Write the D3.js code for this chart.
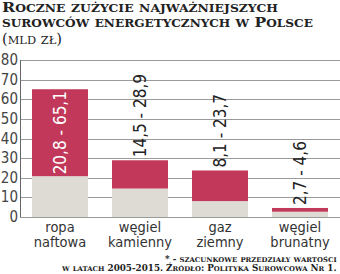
<!DOCTYPE html>
<html>
<head>
<meta charset="utf-8">
<script src="https://cdn.jsdelivr.net/npm/d3@7"></script>
<style>
  body { margin: 0; background: #fff; }
  .title { font-family: "DejaVu Serif", serif; font-weight: bold; fill: #222; }
  .cond { font-family: "Liberation Sans Narrow", "DejaVu Sans Condensed", sans-serif; }
</style>
</head>
<body>
<div id="canvas"></div>
<script>
(function(d3){

  // dane: szacunkowe przedziały (mld zł)
  var categories = [['ropa', 'naftowa'], ['węgiel', 'kamienny'], ['gaz', 'ziemny'], ['węgiel', 'brunatny']],
      lowValues = [20.8, 14.5, 8.1, 2.7],
      highValues = [65.1, 28.9, 23.7, 4.6],
      rangeLabels = ['20,8 - 65,1', '14,5 - 28,9', '8,1 - 23,7', '2,7 - 4,6'],
      yTicks = [0, 10, 20, 30, 40, 50, 60, 70, 80];

  var canvas_d = {width: 340, height: 274},
      margin = {top: 60, left: 20, right: 0},
      red = '#c1385a',
      grey = '#dddbd3';

  var canvas = d3.select('#canvas').append('svg')
      .attr('width', canvas_d.width)
      .attr('height', canvas_d.height);

  var x = d3.scaleBand()
      .domain(d3.range(categories.length))
      .range([margin.left, canvas_d.width - margin.right])
      .paddingInner(0.3)
      .paddingOuter(0.15);

  var y = d3.scaleLinear().domain([0, 80]).range([217, 60]);

  // small caps by hand, then stretch the line to the given width
  function fitLine(str, size, x0, y0, width, anchor, weight) {
    var t = canvas.append('text').attr('class', 'title')
        .attr('font-size', size)
        .style('font-weight', weight || 'bold');
    var runs = [];
    str.split('').forEach(function(ch){
      var small = ch !== ch.toUpperCase();
      if (runs.length && runs[runs.length - 1].small === small) runs[runs.length - 1].s += ch;
      else runs.push({small: small, s: ch});
    });
    runs.forEach(function(r){
      t.append('tspan')
          .attr('font-size', r.small ? size * 0.78 : size)
          .text(r.s.toUpperCase());
    });
    var w = t.node().getComputedTextLength(),
        k = width / w,
        left = anchor === 'end' ? x0 - width : x0;
    t.attr('transform', 'translate(' + left + ',' + y0 + ') scale(' + k + ',1)');
    return t;
  }

  /**
   * Title
   */
  fitLine('Roczne zużycie najważniejszych', 13, 2, 12, 276);
  fitLine('surowców energetycznych w Polsce', 13, 2, 27, 311);
  fitLine('(mld zł)', 14, 2, 44, 60, 'start', 'normal');

  /**
   * Grid + axis
   */
  canvas.append('g').selectAll('line')
      .data(yTicks)
    .enter().append('line')
      .attr('x1', margin.left).attr('x2', canvas_d.width)
      .attr('y1', function(d){ return Math.round(y(d)) + 0.5; })
      .attr('y2', function(d){ return Math.round(y(d)) + 0.5; })
      .attr('stroke', '#9a9a9a').attr('stroke-width', 1);

  canvas.append('line')
      .attr('x1', margin.left + 0.5).attr('x2', margin.left + 0.5)
      .attr('y1', y(80)).attr('y2', y(0))
      .attr('stroke', '#666');

  canvas.append('g').selectAll('text')
      .data(yTicks)
    .enter().append('text')
      .attr('class', 'cond')
      .attr('x', 18).attr('y', function(d){ return y(d) + 5; })
      .attr('text-anchor', 'end').attr('font-size', 15).attr('fill', '#444')
      .text(function(d){ return d; });

  /**
   * Bars
   */
  var bars = canvas.append('g').selectAll('g')
      .data(categories)
    .enter().append('g');

  bars.append('rect')
      .attr('x', function(d, i){ return x(i); })
      .attr('width', x.bandwidth())
      .attr('y', function(d, i){ return y(lowValues[i]); })
      .attr('height', function(d, i){ return y(0) - y(lowValues[i]); })
      .attr('fill', grey);

  bars.append('rect')
      .attr('x', function(d, i){ return x(i); })
      .attr('width', x.bandwidth())
      .attr('y', function(d, i){ return y(highValues[i]); })
      .attr('height', function(d, i){ return y(lowValues[i]) - y(highValues[i]); })
      .attr('fill', red);

  // etykiety przedziałów
  bars.append('text')
      .attr('class', 'cond')
      .attr('font-size', 17)
      .attr('fill', function(d, i){ return i === 0 ? '#fff' : '#222'; })
      .attr('text-anchor', function(d, i){ return i === 0 ? 'middle' : 'start'; })
      .attr('transform', function(d, i){
        var cx = x(i) + x.bandwidth() / 2 + 6,
            cy = i === 0 ? (y(highValues[i]) + y(lowValues[i])) / 2 : y(highValues[i]) - 3;
        return 'translate(' + cx + ',' + cy + ') rotate(-90)';
      })
      .text(function(d, i){ return rangeLabels[i]; });

  // kategorie
  bars.append('text')
      .attr('class', 'cond')
      .attr('font-size', 14.5).attr('fill', '#333')
      .attr('text-anchor', 'middle')
      .selectAll('tspan')
      .data(function(d, i){ return d.map(function(s){ return {s: s, i: i}; }); })
    .enter().append('tspan')
      .attr('x', function(d){ return x(d.i) + x.bandwidth() / 2; })
      .attr('y', function(d, j){ return 232 + j * 15; })
      .text(function(d){ return d.s; });

  /**
   * Footnote
   */
  fitLine('* - szacunkowe przedziały wartości', 8.5, 337, 262, 172, 'end');
  fitLine('w latach 2005-2015. Źródło: Polityka Surowcowa Nr 1.', 8.5, 337, 271, 275, 'end');

})(d3);
</script>
</body>
</html>
